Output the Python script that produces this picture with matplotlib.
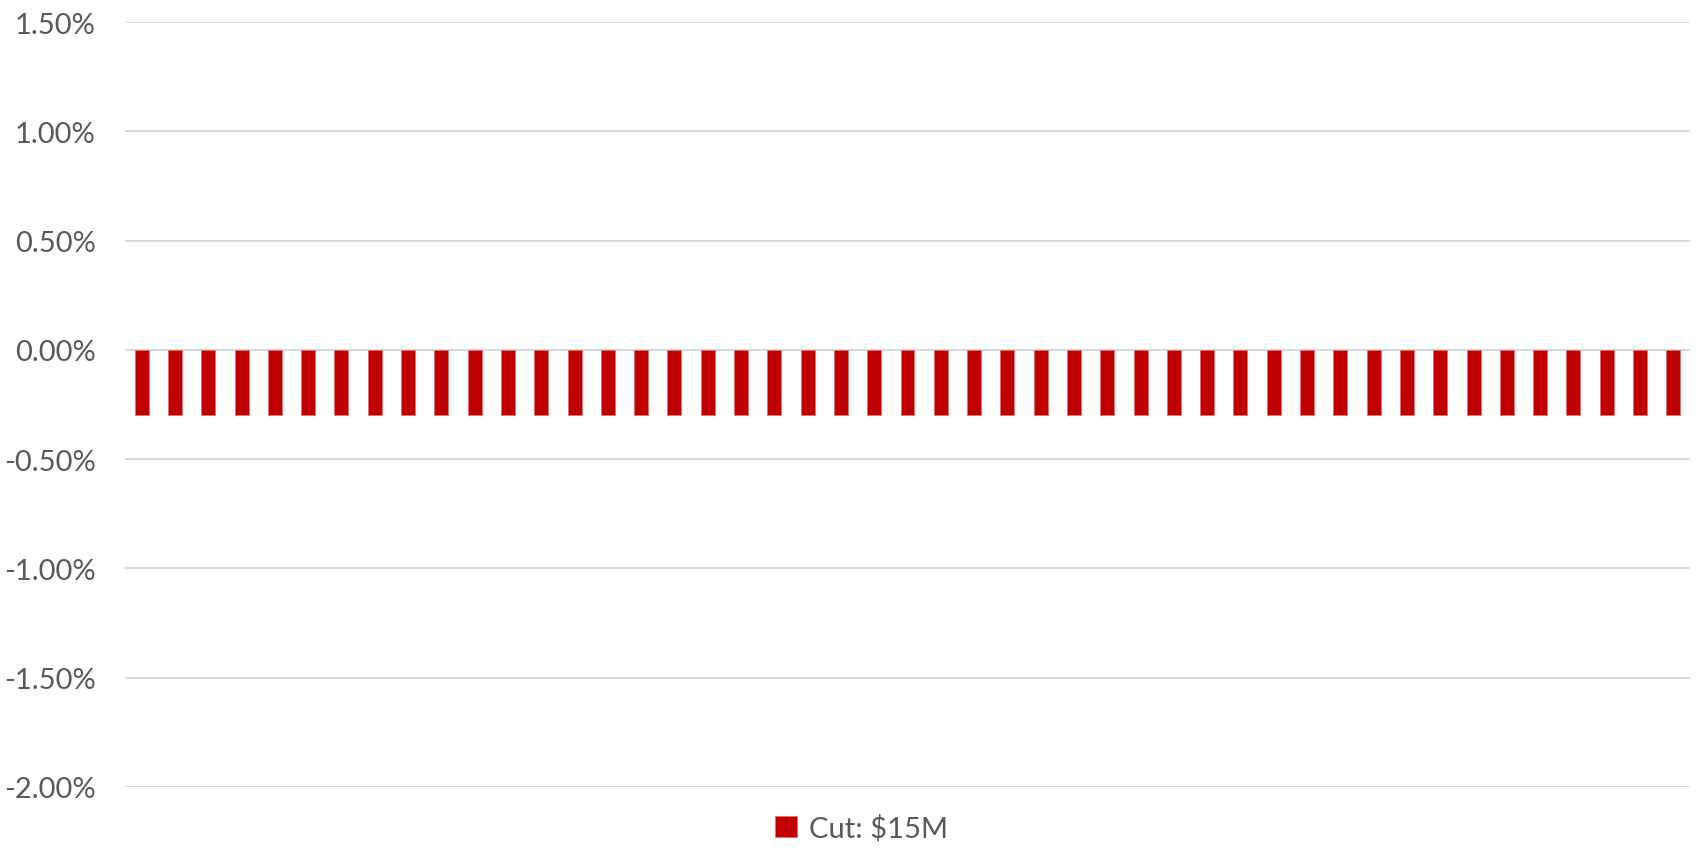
import matplotlib.pyplot as plt
from matplotlib.ticker import FuncFormatter

# 47 periods, each with the same cut impact
periods = list(range(1, 48))
cut_15m = [-0.30] * 47
series_label = 'Cut: $15M'
yticks = [1.5, 1.0, 0.5, 0.0, -0.5, -1.0, -1.5, -2.0]

plt.rcParams['font.family'] = ['Lato', 'DejaVu Sans']


def pct(v, pos):
    # plain hyphen for the minus, as in the original
    s = f'{abs(v):.2f}%'
    return '-' + s if v < -1e-9 else s


fig = plt.figure(figsize=(16.96, 8.62), dpi=100)
ax = fig.add_axes([125 / 1696, 74 / 862, 1565 / 1696, 765 / 862])

ax.bar(periods, cut_15m, width=0.42, color='#c00000', edgecolor='#e07070',
       linewidth=0.6, label=series_label, zorder=3)

ax.set_xlim(0.5, 47.5)
ax.set_ylim(-2.0, 1.5)
ax.set_yticks(yticks)
ax.yaxis.set_major_formatter(FuncFormatter(pct))
ax.set_xticks([])
ax.grid(axis='y', color='#d9d9d9', linewidth=1.4, zorder=0)
for s in ax.spines.values():
    s.set_visible(False)
ax.tick_params(axis='y', length=0, pad=21, labelsize=21, labelcolor='#595959')

leg = fig.legend(loc='lower center', bbox_to_anchor=(0.508, -0.008), frameon=False,
                 fontsize=21, handlelength=0.75, handleheight=0.75,
                 handletextpad=0.4, labelcolor='#595959')

fig.savefig('out.png', dpi=100)
